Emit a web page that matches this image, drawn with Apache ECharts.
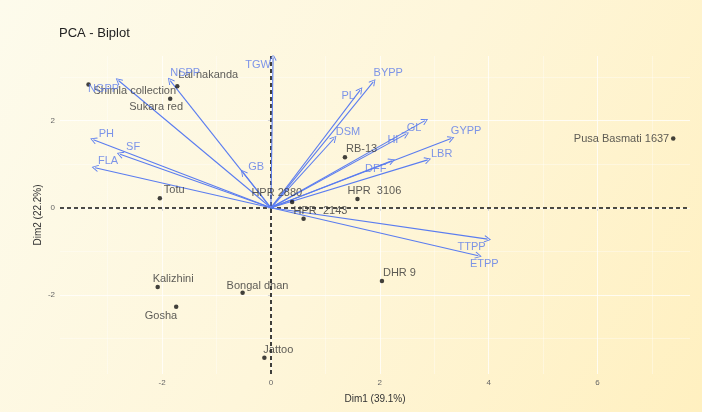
<!DOCTYPE html>
<html>
<head>
<meta charset="utf-8">
<script src="https://cdn.jsdelivr.net/npm/echarts@6/dist/echarts.min.js"></script>
<style>html,body{margin:0;padding:0;}#c{width:702px;height:412px;}</style>
</head>
<body>
<div id="c"></div>
<script>
// ---- data ----
var varNames = ['TGW','BYPP','PL','DSM','GL','HI','GYPP','LBR','DFF','TTPP','ETPP','GB','PH','SF','FLA','NGPP','NSPP'];
var varX = [0.04, 1.88, 1.64, 1.16, 2.83, 2.48, 3.31, 2.88, 2.22, 3.98, 3.81, -0.51, -3.26, -2.77, -3.23, -2.80, -1.85];
var varY = [3.45, 2.89, 2.70, 1.59, 2.00, 1.69, 1.59, 1.10, 1.08, -0.72, -1.10, 0.81, 1.56, 1.23, 0.92, 2.92, 2.92];

var indNames = ['Shimla collection','Lal nakanda','Sukara red','Totu','Kalizhini','Gosha','Bongal dhan','Jattoo','HPR 2880','HPR  2143','HPR  3106','RB-13','DHR 9','Pusa Basmati 1637'];
var indX = [-3.35, -1.72, -1.85, -2.04, -2.08, -1.74, -0.52, -0.12, 0.39, 0.60, 1.59, 1.36, 2.04, 7.39];
var indY = [2.83, 2.79, 2.50, 0.22, -1.82, -2.27, -1.95, -3.44, 0.13, -0.25, 0.20, 1.16, -1.68, 1.59];

var xTicks = [-2, 0, 2, 4, 6];
var yTicks = [-2, 0, 2];
var xMinor = [-3, -1, 1, 3, 5, 7];
var yMinor = [-3, -1, 1, 3];

// ---- layout / style (label placement offsets in px) ----
var varLab = {
  'TGW':[-15,8],'BYPP':[15,-9],'PL':[-12,6],'DSM':[14,-7],'GL':[-11,7],'HI':[-13,6],
  'GYPP':[15,-8],'LBR':[14,-6],'DFF':[-16,8],'TTPP':[-16,8],'ETPP':[6,8],'GB':[13,-6],
  'PH':[13,-6],'SF':[13,-7],'FLA':[13,-7],'NGPP':[-15,8],'NSPP':[15,-8]
};
var indLab = {
  'Shimla collection':['left',5,7],'Lal nakanda':['left',1,-11],'Sukara red':['center',-14,8],
  'Totu':['left',4,-8],'Kalizhini':['left',-5,-8],'Gosha':['right',1,9],'Bongal dhan':['left',-16,-7],
  'Jattoo':['left',-1,-8],'HPR 2880':['right',10,-9],'HPR  2143':['left',-10,-8],'HPR  3106':['left',-10,-8],
  'RB-13':['left',1,-8],'DHR 9':['left',1,-8],'Pusa Basmati 1637':['right',-4,0]
};
var FONT = '"Liberation Sans", Arial, sans-serif';
var BLUE = '#5A7CF0';
var BLUE_TXT = '#5B7BEA';
var chevron = 'path://M5,0 L10,9 L9,10 L5,2.2 L1,10 L0,9 Z';

var arrowData = varNames.map(function(n,i){ return {coords:[[0,0],[varX[i],varY[i]]]}; });
var varLabelData = varNames.map(function(n,i){
  return {value:[varX[i],varY[i]], name:n};
});
var indDots = indNames.map(function(n,i){ return [indX[i],indY[i]]; });
var indLabelData = indNames.map(function(n,i){
  return {value:[indX[i],indY[i]], name:n, label:{align:indLab[n][0]}};
});

var gridLines = [];
xTicks.forEach(function(v){ gridLines.push({xAxis:v, lineStyle:{color:'rgba(255,255,255,0.75)', width:1, type:'solid'}}); });
xMinor.forEach(function(v){ gridLines.push({xAxis:v, lineStyle:{color:'rgba(255,255,255,0.6)', width:0.6, type:'solid'}}); });
yTicks.forEach(function(v){ gridLines.push({yAxis:v, lineStyle:{color:'rgba(255,255,255,0.75)', width:1, type:'solid'}}); });
yMinor.forEach(function(v){ gridLines.push({yAxis:v, lineStyle:{color:'rgba(255,255,255,0.6)', width:0.6, type:'solid'}}); });

var chart = echarts.init(document.getElementById('c'), null, {renderer:'canvas'});
chart.setOption({
  animation:false,
  backgroundColor:{type:'linear', x:0, y:0, x2:1, y2:1, colorStops:[{offset:0,color:'#FDFBEC'},{offset:0.5,color:'#FEF6DA'},{offset:1,color:'#FFF0C0'}]},
  textStyle:{fontFamily:FONT},
  title:{text:'PCA - Biplot', left:54, top:22, textStyle:{fontSize:13, fontWeight:'normal', color:'#222', fontFamily:FONT}},
  grid:{left:60, right:12, top:56, bottom:38},
  xAxis:{type:'value', min:-3.874, max:7.698,
    name:'Dim1 (39.1%)', nameLocation:'middle', nameGap:20, nameMoveOverlap:false,
    nameTextStyle:{fontSize:10, color:'#333', fontFamily:FONT},
    axisLine:{show:false}, splitLine:{show:false},
    axisTick:{show:true, customValues:xTicks, length:3, lineStyle:{color:'#555'}},
    axisLabel:{customValues:xTicks, fontSize:8, color:'#666', margin:5, fontFamily:FONT}},
  yAxis:{type:'value', min:-3.814, max:3.483,
    name:'Dim2 (22.2%)', nameLocation:'middle', nameGap:17, nameMoveOverlap:false,
    nameTextStyle:{fontSize:10, color:'#333', fontFamily:FONT},
    axisLine:{show:false}, splitLine:{show:false},
    axisTick:{show:true, customValues:yTicks, length:3, lineStyle:{color:'#555'}},
    axisLabel:{customValues:yTicks, fontSize:8, color:'#666', margin:5, fontFamily:FONT}},
  series:[
    {type:'scatter', data:[], silent:true, z:1,
     markLine:{silent:true, z:1, symbol:['none','none'], label:{show:false}, animation:false, data:gridLines}},
    {type:'scatter', data:[], silent:true, z:2,
     markLine:{silent:true, z:2, symbol:['none','none'], label:{show:false}, animation:false,
       lineStyle:{color:'#111', width:1.6, type:[4,3]},
       data:[{xAxis:0},{yAxis:0}]}},
    {type:'lines', coordinateSystem:'cartesian2d', z:10, silent:true,
     symbol:['none', chevron], symbolSize:[7,7],
     lineStyle:{color:BLUE, width:1.1, opacity:1, curveness:0},
     data:arrowData},
    {type:'scatter', z:11, symbolSize:4.5, itemStyle:{color:'#111'}, data:indDots, silent:true},
    {type:'scatter', z:12, symbolSize:1, itemStyle:{color:'rgba(0,0,0,0)'}, silent:true,
     label:{show:true, position:'inside', formatter:'{b}', fontSize:11, color:'#333',
       verticalAlign:'middle', fontFamily:FONT},
     labelLayout:function(p){ var l = indLab[indNames[p.dataIndex]]; return {dx:l[1], dy:l[2], hideOverlap:false}; },
     data:indLabelData},
    {type:'scatter', z:12, symbolSize:1, itemStyle:{color:'rgba(0,0,0,0)'}, silent:true,
     label:{show:true, position:'inside', formatter:'{b}', fontSize:11, color:BLUE_TXT,
       align:'center', verticalAlign:'middle', fontFamily:FONT},
     labelLayout:function(p){ var l = varLab[varNames[p.dataIndex]]; return {dx:l[0], dy:l[1], hideOverlap:false}; },
     data:varLabelData}
  ]
});
</script>
</body>
</html>
